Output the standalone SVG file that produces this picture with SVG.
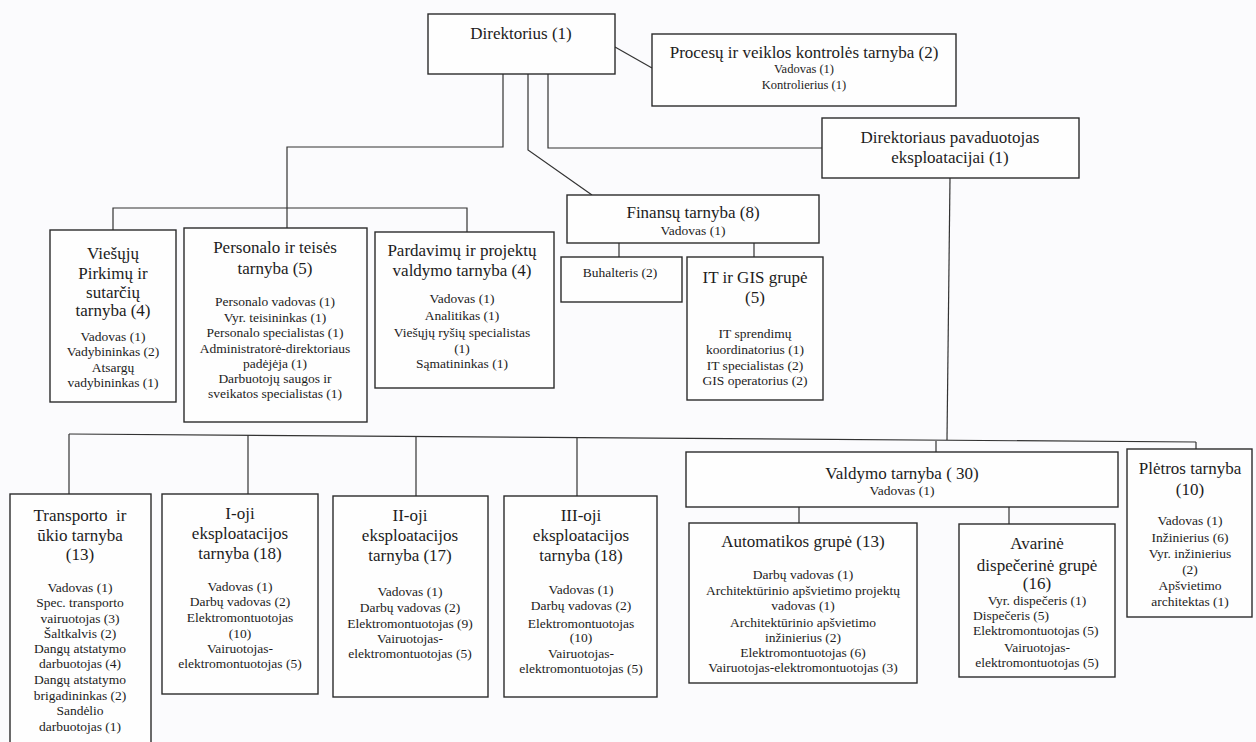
<svg xmlns="http://www.w3.org/2000/svg" width="1256" height="742" viewBox="0 0 1256 742">
<style>
.b{fill:#fefefe;stroke:#2b2b2b;stroke-width:1.4}
.c{fill:none;stroke:#333;stroke-width:1.2}
text{font-family:"Liberation Serif","Times New Roman",serif;fill:#1c1c1c;text-anchor:middle}
.t{font-size:17px}
.d{font-size:13.5px}
.s{font-size:12.5px}
</style>
<rect x="0" y="0" width="1256" height="742" fill="#fbfbfd"/>
<g id="connectors">
<line class="c" x1="615" y1="47" x2="652" y2="68"/>
<polyline class="c" points="503,74 503,147 287,147 287,228"/>
<polyline class="c" points="113,230 113,208 467,208 467,232"/>
<polyline class="c" points="528,74 528,150 592,195"/>
<polyline class="c" points="548,74 548,148 822,148"/>
<line class="c" x1="619" y1="243" x2="619" y2="257"/>
<line class="c" x1="754" y1="243" x2="754" y2="257"/>
<line class="c" x1="950" y1="178" x2="947" y2="440"/>
<line class="c" x1="69" y1="434" x2="1196" y2="442"/>
<line class="c" x1="69" y1="434" x2="69" y2="494"/>
<line class="c" x1="248" y1="435" x2="248" y2="494"/>
<line class="c" x1="416" y1="437" x2="416" y2="496"/>
<line class="c" x1="577" y1="438" x2="577" y2="496"/>
<line class="c" x1="936" y1="441" x2="936" y2="452"/>
<line class="c" x1="1196" y1="442" x2="1196" y2="449"/>
<line class="c" x1="799" y1="507" x2="799" y2="523"/>
<line class="c" x1="1009" y1="507" x2="1009" y2="524"/>
</g>
<g id="direktorius">
<rect class="b" x="428" y="14" width="187" height="60"/>
<text class="t" x="521" y="39">Direktorius (1)</text>
</g>
<g id="procesu">
<rect class="b" x="652" y="34" width="304" height="72"/>
<text class="t" x="804" y="58">Procesų ir veiklos kontrolės tarnyba (2)</text>
<text class="s" x="804" y="73">Vadovas (1)</text>
<text class="s" x="804" y="89">Kontrolierius (1)</text>
</g>
<g id="pavaduotojas">
<rect class="b" x="822" y="118" width="257" height="60"/>
<text class="t" x="950" y="143">Direktoriaus pavaduotojas</text>
<text class="t" x="950" y="163">eksploatacijai (1)</text>
</g>
<g id="viesuju">
<rect class="b" x="50" y="230" width="126" height="172"/>
<text class="t" x="113" y="259">Viešųjų</text>
<text class="t" x="113" y="279">Pirkimų ir</text>
<text class="t" x="113" y="298">sutarčių</text>
<text class="t" x="113" y="316">tarnyba (4)</text>
<text class="d" x="113" y="341">Vadovas (1)</text>
<text class="d" x="113" y="356">Vadybininkas (2)</text>
<text class="d" x="113" y="372">Atsargų</text>
<text class="d" x="113" y="387">vadybininkas (1)</text>
</g>
<g id="personalo">
<rect class="b" x="184" y="228" width="183" height="194"/>
<text class="t" x="275" y="253">Personalo ir teisės</text>
<text class="t" x="275" y="274">tarnyba (5)</text>
<text class="d" x="275" y="306">Personalo vadovas (1)</text>
<text class="d" x="275" y="322">Vyr. teisininkas (1)</text>
<text class="d" x="275" y="337">Personalo specialistas (1)</text>
<text class="d" x="275" y="353">Administratorė-direktoriaus</text>
<text class="d" x="275" y="368">padėjėja (1)</text>
<text class="d" x="275" y="383">Darbuotojų saugos ir</text>
<text class="d" x="275" y="398">sveikatos specialistas (1)</text>
</g>
<g id="pardavimu">
<rect class="b" x="375" y="232" width="179" height="156"/>
<text class="t" x="462" y="256">Pardavimų ir projektų</text>
<text class="t" x="462" y="276">valdymo tarnyba (4)</text>
<text class="d" x="462" y="303">Vadovas (1)</text>
<text class="d" x="462" y="320">Analitikas (1)</text>
<text class="d" x="462" y="337">Viešųjų ryšių specialistas</text>
<text class="d" x="462" y="353">(1)</text>
<text class="d" x="462" y="368">Sąmatininkas (1)</text>
</g>
<g id="finansu">
<rect class="b" x="567" y="195" width="252" height="48"/>
<text class="t" x="693" y="218">Finansų tarnyba (8)</text>
<text class="d" x="693" y="235">Vadovas (1)</text>
</g>
<g id="buhalteris">
<rect class="b" x="561" y="257" width="121" height="45"/>
<text class="d" x="620" y="277">Buhalteris (2)</text>
</g>
<g id="itgis">
<rect class="b" x="687" y="257" width="136" height="143"/>
<text class="t" x="755" y="283">IT ir GIS grupė</text>
<text class="t" x="755" y="303">(5)</text>
<text class="d" x="755" y="338">IT sprendimų</text>
<text class="d" x="755" y="354">koordinatorius (1)</text>
<text class="d" x="755" y="370">IT specialistas (2)</text>
<text class="d" x="755" y="385">GIS operatorius (2)</text>
</g>
<g id="transporto">
<rect class="b" x="10" y="494" width="141" height="260"/>
<text class="t" x="80" y="521" xml:space="preserve">Transporto  ir</text>
<text class="t" x="80" y="541">ūkio tarnyba</text>
<text class="t" x="80" y="560">(13)</text>
<text class="d" x="80" y="592">Vadovas (1)</text>
<text class="d" x="80" y="607">Spec. transporto</text>
<text class="d" x="80" y="623">vairuotojas (3)</text>
<text class="d" x="80" y="638">Šaltkalvis (2)</text>
<text class="d" x="80" y="653">Dangų atstatymo</text>
<text class="d" x="80" y="668">darbuotojas (4)</text>
<text class="d" x="80" y="684">Dangų atstatymo</text>
<text class="d" x="80" y="700">brigadininkas (2)</text>
<text class="d" x="80" y="715">Sandėlio</text>
<text class="d" x="80" y="731">darbuotojas (1)</text>
</g>
<g id="ioji">
<rect class="b" x="162" y="494" width="156" height="200"/>
<text class="t" x="240" y="519">I-oji</text>
<text class="t" x="240" y="539">eksploatacijos</text>
<text class="t" x="240" y="559">tarnyba (18)</text>
<text class="d" x="240" y="591">Vadovas (1)</text>
<text class="d" x="240" y="606">Darbų vadovas (2)</text>
<text class="d" x="240" y="622">Elektromontuotojas</text>
<text class="d" x="240" y="638">(10)</text>
<text class="d" x="240" y="653">Vairuotojas-</text>
<text class="d" x="240" y="668">elektromontuotojas (5)</text>
</g>
<g id="iioji">
<rect class="b" x="333" y="496" width="155" height="201"/>
<text class="t" x="410" y="521">II-oji</text>
<text class="t" x="410" y="541">eksploatacijos</text>
<text class="t" x="410" y="561">tarnyba (17)</text>
<text class="d" x="410" y="596">Vadovas (1)</text>
<text class="d" x="410" y="612">Darbų vadovas (2)</text>
<text class="d" x="410" y="628">Elektromontuotojas (9)</text>
<text class="d" x="410" y="643">Vairuotojas-</text>
<text class="d" x="410" y="658">elektromontuotojas (5)</text>
</g>
<g id="iiioji">
<rect class="b" x="504" y="496" width="153" height="201"/>
<text class="t" x="581" y="521">III-oji</text>
<text class="t" x="581" y="541">eksploatacijos</text>
<text class="t" x="581" y="561">tarnyba (18)</text>
<text class="d" x="581" y="594">Vadovas (1)</text>
<text class="d" x="581" y="610">Darbų vadovas (2)</text>
<text class="d" x="581" y="628">Elektromontuotojas</text>
<text class="d" x="581" y="642">(10)</text>
<text class="d" x="581" y="658">Vairuotojas-</text>
<text class="d" x="581" y="673">elektromontuotojas (5)</text>
</g>
<g id="valdymo">
<rect class="b" x="686" y="452" width="432" height="55"/>
<text class="t" x="902" y="479">Valdymo tarnyba ( 30)</text>
<text class="d" x="902" y="495">Vadovas (1)</text>
</g>
<g id="automatikos">
<rect class="b" x="689" y="523" width="228" height="160"/>
<text class="t" x="803" y="547">Automatikos grupė (13)</text>
<text class="d" x="803" y="579">Darbų vadovas (1)</text>
<text class="d" x="803" y="595">Architektūrinio apšvietimo projektų</text>
<text class="d" x="803" y="610">vadovas (1)</text>
<text class="d" x="803" y="627">Architektūrinio apšvietimo</text>
<text class="d" x="803" y="642">inžinierius (2)</text>
<text class="d" x="803" y="657">Elektromontuotojas (6)</text>
<text class="d" x="803" y="672">Vairuotojas-elektromontuotojas (3)</text>
</g>
<g id="avarine">
<rect class="b" x="959" y="524" width="156" height="153"/>
<text class="t" x="1037" y="549">Avarinė</text>
<text class="t" x="1037" y="571">dispečerinė grupė</text>
<text class="t" x="1037" y="589">(16)</text>
<text class="d" x="1037" y="605">Vyr. dispečeris (1)</text>
<text class="d" x="973" y="620" style="text-anchor:start">Dispečeris (5)</text>
<text class="d" x="973" y="635" style="text-anchor:start">Elektromontuotojas (5)</text>
<text class="d" x="1037" y="652">Vairuotojas-</text>
<text class="d" x="1037" y="667">elektromontuotojas (5)</text>
</g>
<g id="pletros">
<rect class="b" x="1127" y="449" width="125" height="168"/>
<text class="t" x="1190" y="474">Plėtros tarnyba</text>
<text class="t" x="1190" y="495">(10)</text>
<text class="d" x="1190" y="525">Vadovas (1)</text>
<text class="d" x="1190" y="542">Inžinierius (6)</text>
<text class="d" x="1190" y="558">Vyr. inžinierius</text>
<text class="d" x="1190" y="574">(2)</text>
<text class="d" x="1190" y="590">Apšvietimo</text>
<text class="d" x="1190" y="606">architektas (1)</text>
</g>
</svg>
